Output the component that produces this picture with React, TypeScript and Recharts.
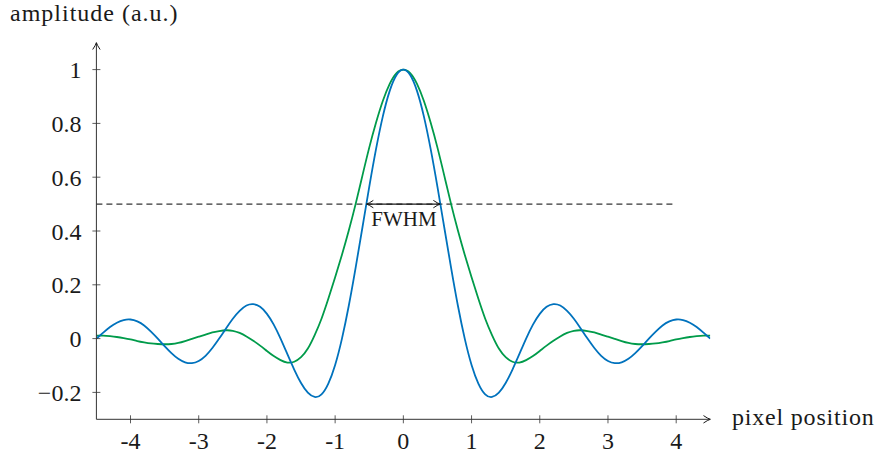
import { LineChart, Line, XAxis, YAxis, ReferenceLine } from 'recharts';

// sample positions along the pixel axis
const positions = [
  -4.5, -4.4, -4.3, -4.2, -4.1, -4.0, -3.9, -3.8, -3.7, -3.6,
  -3.5, -3.4, -3.3, -3.2, -3.1, -3.0, -2.9, -2.8, -2.7, -2.6,
  -2.5, -2.4, -2.3, -2.2, -2.1, -2.0, -1.9, -1.8, -1.7, -1.6,
  -1.5, -1.4, -1.3, -1.2, -1.1, -1.0, -0.9, -0.8, -0.7, -0.6,
  -0.5, -0.4, -0.3, -0.2, -0.1, 0.0, 0.1, 0.2, 0.3, 0.4,
  0.5, 0.6, 0.7, 0.8, 0.9, 1.0, 1.1, 1.2, 1.3, 1.4,
  1.5, 1.6, 1.7, 1.8, 1.9, 2.0, 2.1, 2.2, 2.3, 2.4,
  2.5, 2.6, 2.7, 2.8, 2.9, 3.0, 3.1, 3.2, 3.3, 3.4,
  3.5, 3.6, 3.7, 3.8, 3.9, 4.0, 4.1, 4.2, 4.3, 4.4,
  4.5,
];

// blue curve (narrow response)
const blueValues = [
  0.000, 0.022, 0.043, 0.059, 0.069, 0.071, 0.064, 0.049, 0.026, 0.000,
  -0.028, -0.054, -0.075, -0.088, -0.091, -0.083, -0.064, -0.035, 0.000, 0.038,
  0.074, 0.103, 0.123, 0.128, 0.118, 0.092, 0.052, 0.000, -0.058, -0.115,
  -0.165, -0.201, -0.217, -0.207, -0.167, -0.098, 0.000, 0.122, 0.263, 0.413,
  0.564, 0.705, 0.827, 0.921, 0.980, 1.000, 0.980, 0.921, 0.827, 0.705,
  0.564, 0.413, 0.263, 0.122, 0.000, -0.098, -0.167, -0.207, -0.217, -0.201,
  -0.165, -0.115, -0.058, 0.000, 0.052, 0.092, 0.118, 0.128, 0.123, 0.103,
  0.074, 0.038, 0.000, -0.035, -0.064, -0.083, -0.091, -0.088, -0.075, -0.054,
  -0.028, 0.000, 0.026, 0.049, 0.064, 0.071, 0.069, 0.059, 0.043, 0.022,
  0.000,
];

// green curve (wider, weaker side lobes)
const greenValues = [
  0.011, 0.011, 0.009, 0.006, 0.002, -0.003, -0.009, -0.014, -0.018, -0.020,
  -0.021, -0.020, -0.016, -0.009, -0.001, 0.007, 0.015, 0.023, 0.028, 0.031,
  0.029, 0.021, 0.008, -0.008, -0.026, -0.046, -0.065, -0.080, -0.089, -0.086,
  -0.069, -0.037, 0.013, 0.074, 0.148, 0.228, 0.312, 0.402, 0.500, 0.606,
  0.710, 0.803, 0.884, 0.947, 0.987, 1.000, 0.987, 0.947, 0.884, 0.803,
  0.710, 0.606, 0.500, 0.402, 0.312, 0.228, 0.148, 0.074, 0.013, -0.037,
  -0.069, -0.086, -0.089, -0.080, -0.065, -0.046, -0.026, -0.008, 0.008, 0.021,
  0.029, 0.031, 0.028, 0.023, 0.015, 0.007, -0.001, -0.009, -0.016, -0.020,
  -0.021, -0.020, -0.018, -0.014, -0.009, -0.003, 0.002, 0.006, 0.009, 0.011,
  0.011,
];

const xTicks = [-4, -3, -2, -1, 0, 1, 2, 3, 4];
const xTickLabels = ['-4', '-3', '-2', '-1', '0', '1', '2', '3', '4'];
const yTicks = [-0.2, 0, 0.2, 0.4, 0.6, 0.8, 1];
const yTickLabels = ['\u22120.2', '0', '0.2', '0.4', '0.6', '0.8', '1'];

const xDomain = [-4.5, 4.5];
const yDomain = [-0.3, 1.1];
const halfMax = 0.5;
const dashedEnd = 4;
const fwhmEdges = [-0.54, 0.54];

const data = positions.map((x, i) => ({ x, blue: blueValues[i], green: greenValues[i] }));

const FONT = "'Liberation Serif', 'Times New Roman', serif";
const INK = '#1a1a1a';
const AXIS = '#333';

const arrowHead = (x: number, y: number, angle: number, key: string) => (
  <path
    key={key}
    d="M -6.5 -3.5 Q -2.5 -0.8 0 0 Q -2.5 0.8 -6.5 3.5"
    transform={`translate(${x},${y}) rotate(${angle})`}
    fill="none"
    stroke={INK}
    strokeWidth={1}
    strokeLinecap="round"
  />
);

const arrowLine = (both: boolean, color: string, width: number) => (props: any) => {
  const { x1, y1, x2, y2 } = props;
  const ang = (Math.atan2(y2 - y1, x2 - x1) * 180) / Math.PI;
  return (
    <g>
      <line x1={x1} y1={y1} x2={x2} y2={y2} stroke={color} strokeWidth={width} />
      {arrowHead(x2, y2, ang, 'end')}
      {both ? arrowHead(x1, y1, ang + 180, 'start') : null}
    </g>
  );
};

const XTick = (props: any) => {
  const { x, y, payload } = props;
  const label = xTickLabels[xTicks.indexOf(payload.value)];
  return (
    <g>
      <line x1={x} x2={x} y1={y - 4} y2={y + 4} stroke={AXIS} strokeWidth={0.8} />
      <text x={x} y={y + 30} textAnchor="middle" fontFamily={FONT} fontSize={24} fill={INK}>
        {label}
      </text>
    </g>
  );
};

const YTick = (props: any) => {
  const { x, y, payload } = props;
  const label = yTickLabels[yTicks.indexOf(payload.value)];
  return (
    <g>
      <line x1={x - 4} x2={x + 4} y1={y} y2={y} stroke={AXIS} strokeWidth={0.8} />
      <text x={x - 15} y={y + 8.5} textAnchor="end" fontFamily={FONT} fontSize={24} fill={INK}>
        {label}
      </text>
    </g>
  );
};

export default function App() {
  return (
    <div style={{ position: 'absolute', left: 0, top: 0, width: 878, height: 457, background: '#fff' }}>
      <LineChart
        width={878}
        height={457}
        data={data}
        margin={{ top: 42.7, right: 167.7, bottom: 7.7, left: 36.4 }}
      >
        <XAxis
          dataKey="x"
          type="number"
          domain={xDomain}
          ticks={xTicks}
          interval={0}
          allowDataOverflow
          height={30}
          axisLine={false}
          tickLine={false}
          tickSize={0}
          tickMargin={0}
          tick={<XTick />}
        />
        <YAxis
          type="number"
          domain={yDomain}
          ticks={yTicks}
          interval={0}
          allowDataOverflow
          width={60}
          axisLine={false}
          tickLine={false}
          tickSize={0}
          tickMargin={0}
          tick={<YTick />}
        />
        <ReferenceLine
          segment={[{ x: xDomain[0], y: halfMax }, { x: dashedEnd, y: halfMax }]}
          stroke="#000"
          strokeWidth={1}
          strokeDasharray="6 4"
          ifOverflow="visible"
        />
        <Line type="natural" dataKey="green" stroke="#009b4a" strokeWidth={1.8} dot={false} isAnimationActive={false} />
        <Line type="natural" dataKey="blue" stroke="#0072bd" strokeWidth={1.8} dot={false} isAnimationActive={false} />
        <ReferenceLine
          segment={[{ x: fwhmEdges[0], y: halfMax }, { x: fwhmEdges[1], y: halfMax }]}
          ifOverflow="visible"
          shape={arrowLine(true, INK, 1.2)}
        />
        <ReferenceLine
          segment={[{ x: xDomain[0], y: yDomain[0] }, { x: xDomain[1], y: yDomain[0] }]}
          ifOverflow="visible"
          shape={arrowLine(false, AXIS, 1)}
        />
        <ReferenceLine
          segment={[{ x: xDomain[0], y: yDomain[0] }, { x: xDomain[0], y: yDomain[1] }]}
          ifOverflow="visible"
          shape={arrowLine(false, AXIS, 1)}
        />
        <text x={404} y={226} textAnchor="middle" fontFamily={FONT} fontSize={21} fill={INK}>
          FWHM
        </text>
        <text x={10} y={21} fontFamily={FONT} fontSize={24} fill={INK} letterSpacing={1}>
          amplitude (a.u.)
        </text>
        <text x={732} y={425} fontFamily={FONT} fontSize={24} fill={INK} letterSpacing={0.8}>
          pixel position
        </text>
      </LineChart>
    </div>
  );
}
